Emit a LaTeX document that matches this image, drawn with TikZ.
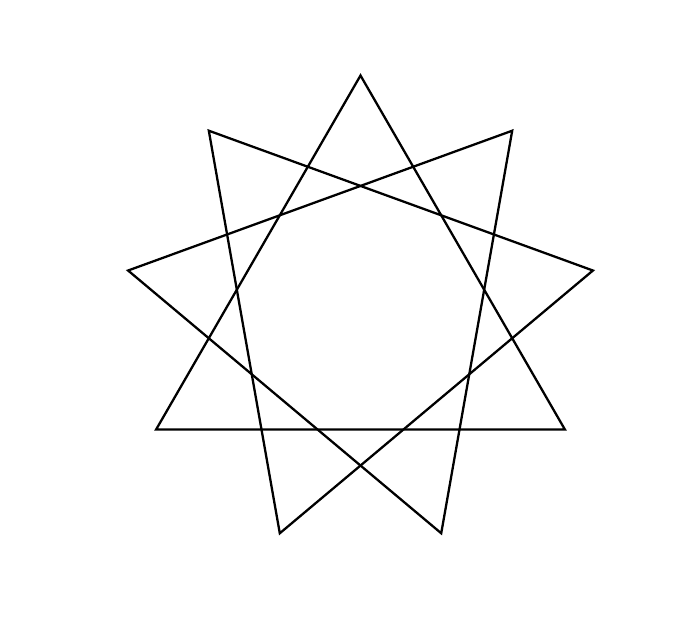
\documentclass[tikz,border=0pt]{standalone}
\begin{document}
\begin{tikzpicture}[line width=1.3pt]
	\def\r{4.72}
	\useasboundingbox (0,0) rectangle (13.98,12.5);
	%Vẽ ba tam giác
	\begin{scope}[shift={(7.21,6.27)}]
		\foreach \i in {0,1,2}
		\draw ({90+40*\i}:\r)--({210+40*\i}:\r)--({330+40*\i}:\r)--cycle;
	\end{scope}
\end{tikzpicture}
\end{document}
